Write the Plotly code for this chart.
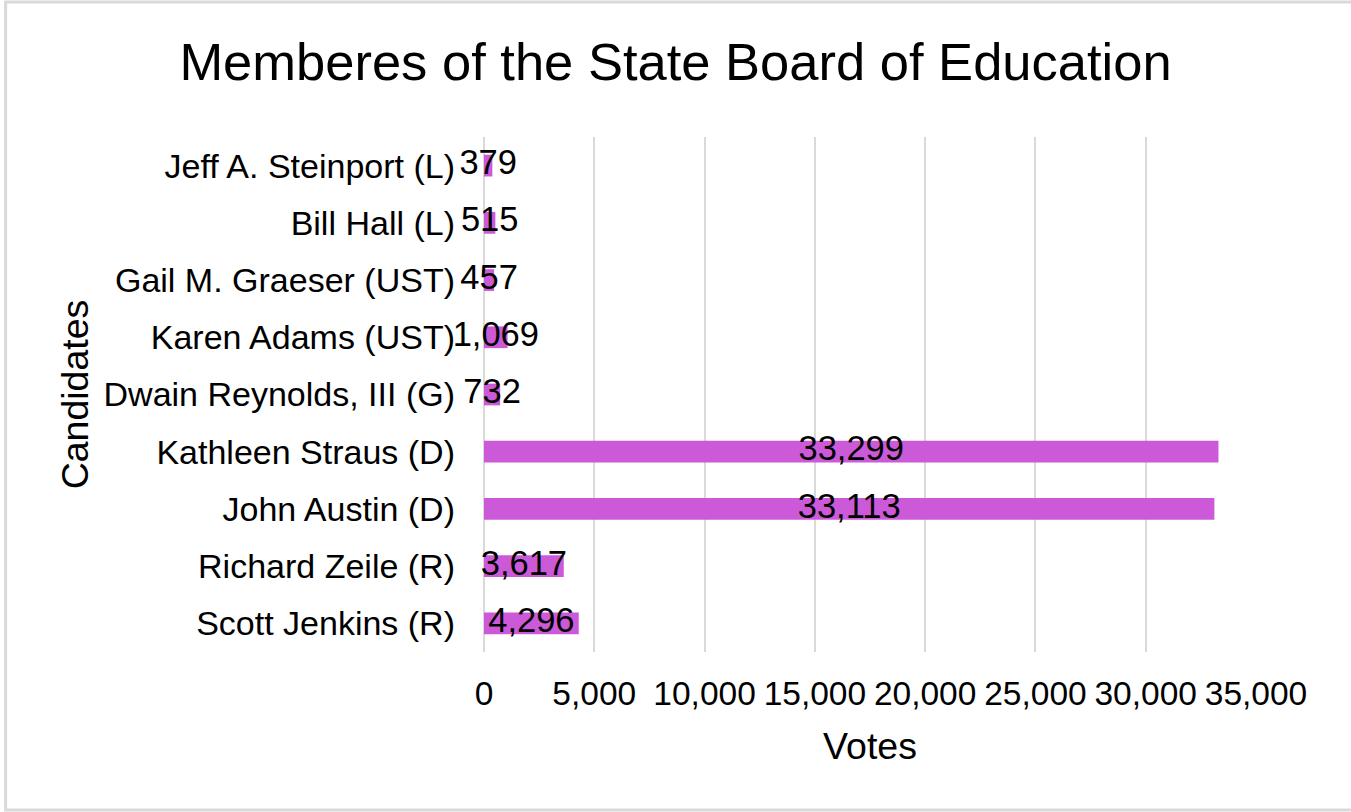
import plotly.graph_objects as go

candidates = [
    "Scott Jenkins (R)",
    "Richard Zeile (R)",
    "John Austin (D)",
    "Kathleen Straus (D)",
    "Dwain Reynolds, III (G)",
    "Karen Adams (UST)",
    "Gail M. Graeser (UST)",
    "Bill Hall (L)",
    "Jeff A. Steinport (L)",
]
votes = [4296, 3617, 33113, 33299, 732, 1069, 457, 515, 379]
tick_values = [0, 5000, 10000, 15000, 20000, 25000, 30000, 35000]
tick_labels = ["0", "5,000", "10,000", "15,000", "20,000", "25,000", "30,000", "35,000"]

FONT = "Liberation Sans, Arial, sans-serif"
BAR_COLOR = "#CC5AD8"
GRID = "#D9D9D9"

fig = go.Figure()
fig.add_trace(go.Bar(
    x=votes, y=candidates, orientation="h",
    marker=dict(color=BAR_COLOR, line=dict(width=0)),
    hoverinfo="x+y",
))
fig.add_trace(go.Scatter(
    x=[v / 2 for v in votes], y=candidates, mode="text",
    text=[f"{v:,}" for v in votes],
    textposition="middle center",
    textfont=dict(family=FONT, size=34.5, color="#000000"),
    cliponaxis=False,
    hoverinfo="skip",
))

L, R, T, B = 483.5, 1351 - 1255.7, 137, 812 - 652
pw = 1351 - L - R
ph = 812 - T - B

fig.update_layout(
    width=1351, height=812,
    margin=dict(l=L, r=R, t=T, b=B, pad=0, autoexpand=False),
    paper_bgcolor="white", plot_bgcolor="white",
    showlegend=False,
    bargap=0.62,
    font=dict(family=FONT, color="#000000"),
    title=dict(
        text="Memberes of the State Board of Education",
        font=dict(family=FONT, size=52.5, color="#000000"),
        x=0.5, xanchor="center", xref="container",
        y=1 - 62 / 812, yanchor="middle", yref="container",
    ),
    xaxis=dict(
        range=[0, 35000],
        tickvals=tick_values, ticktext=tick_labels,
        tickfont=dict(family=FONT, size=33.5, color="#000000"),
        showgrid=True, gridcolor=GRID, gridwidth=2,
        zeroline=True, zerolinecolor=GRID, zerolinewidth=2,
        showline=False, ticks="",
        ticklabelstandoff=18,
        title=dict(text="Votes", font=dict(family=FONT, size=37.5, color="#000000"), standoff=22),
        fixedrange=True,
        automargin=False,
    ),
    yaxis=dict(
        type="category",
        categoryorder="array", categoryarray=candidates,
        tickfont=dict(family=FONT, size=34, color="#000000"),
        showgrid=False, showline=False, ticks="",
        ticklabelstandoff=28,
        title=dict(text="Candidates", font=dict(family=FONT, size=37.5, color="#000000"), standoff=3),
        fixedrange=True,
        automargin=False,
    ),
    shapes=[dict(
        type="rect", xref="paper", yref="paper",
        x0=(5 - L) / pw, x1=(1356 - L) / pw,
        y0=(812 - B - 810) / ph, y1=(812 - B - 2) / ph,
        line=dict(color=GRID, width=3), fillcolor="rgba(0,0,0,0)",
        layer="below",
    )],
)

fig.write_html(
    "out.html",
    config={"displayModeBar": False},
    post_script="document.body.style.margin='0';document.body.style.overflow='hidden';",
)
